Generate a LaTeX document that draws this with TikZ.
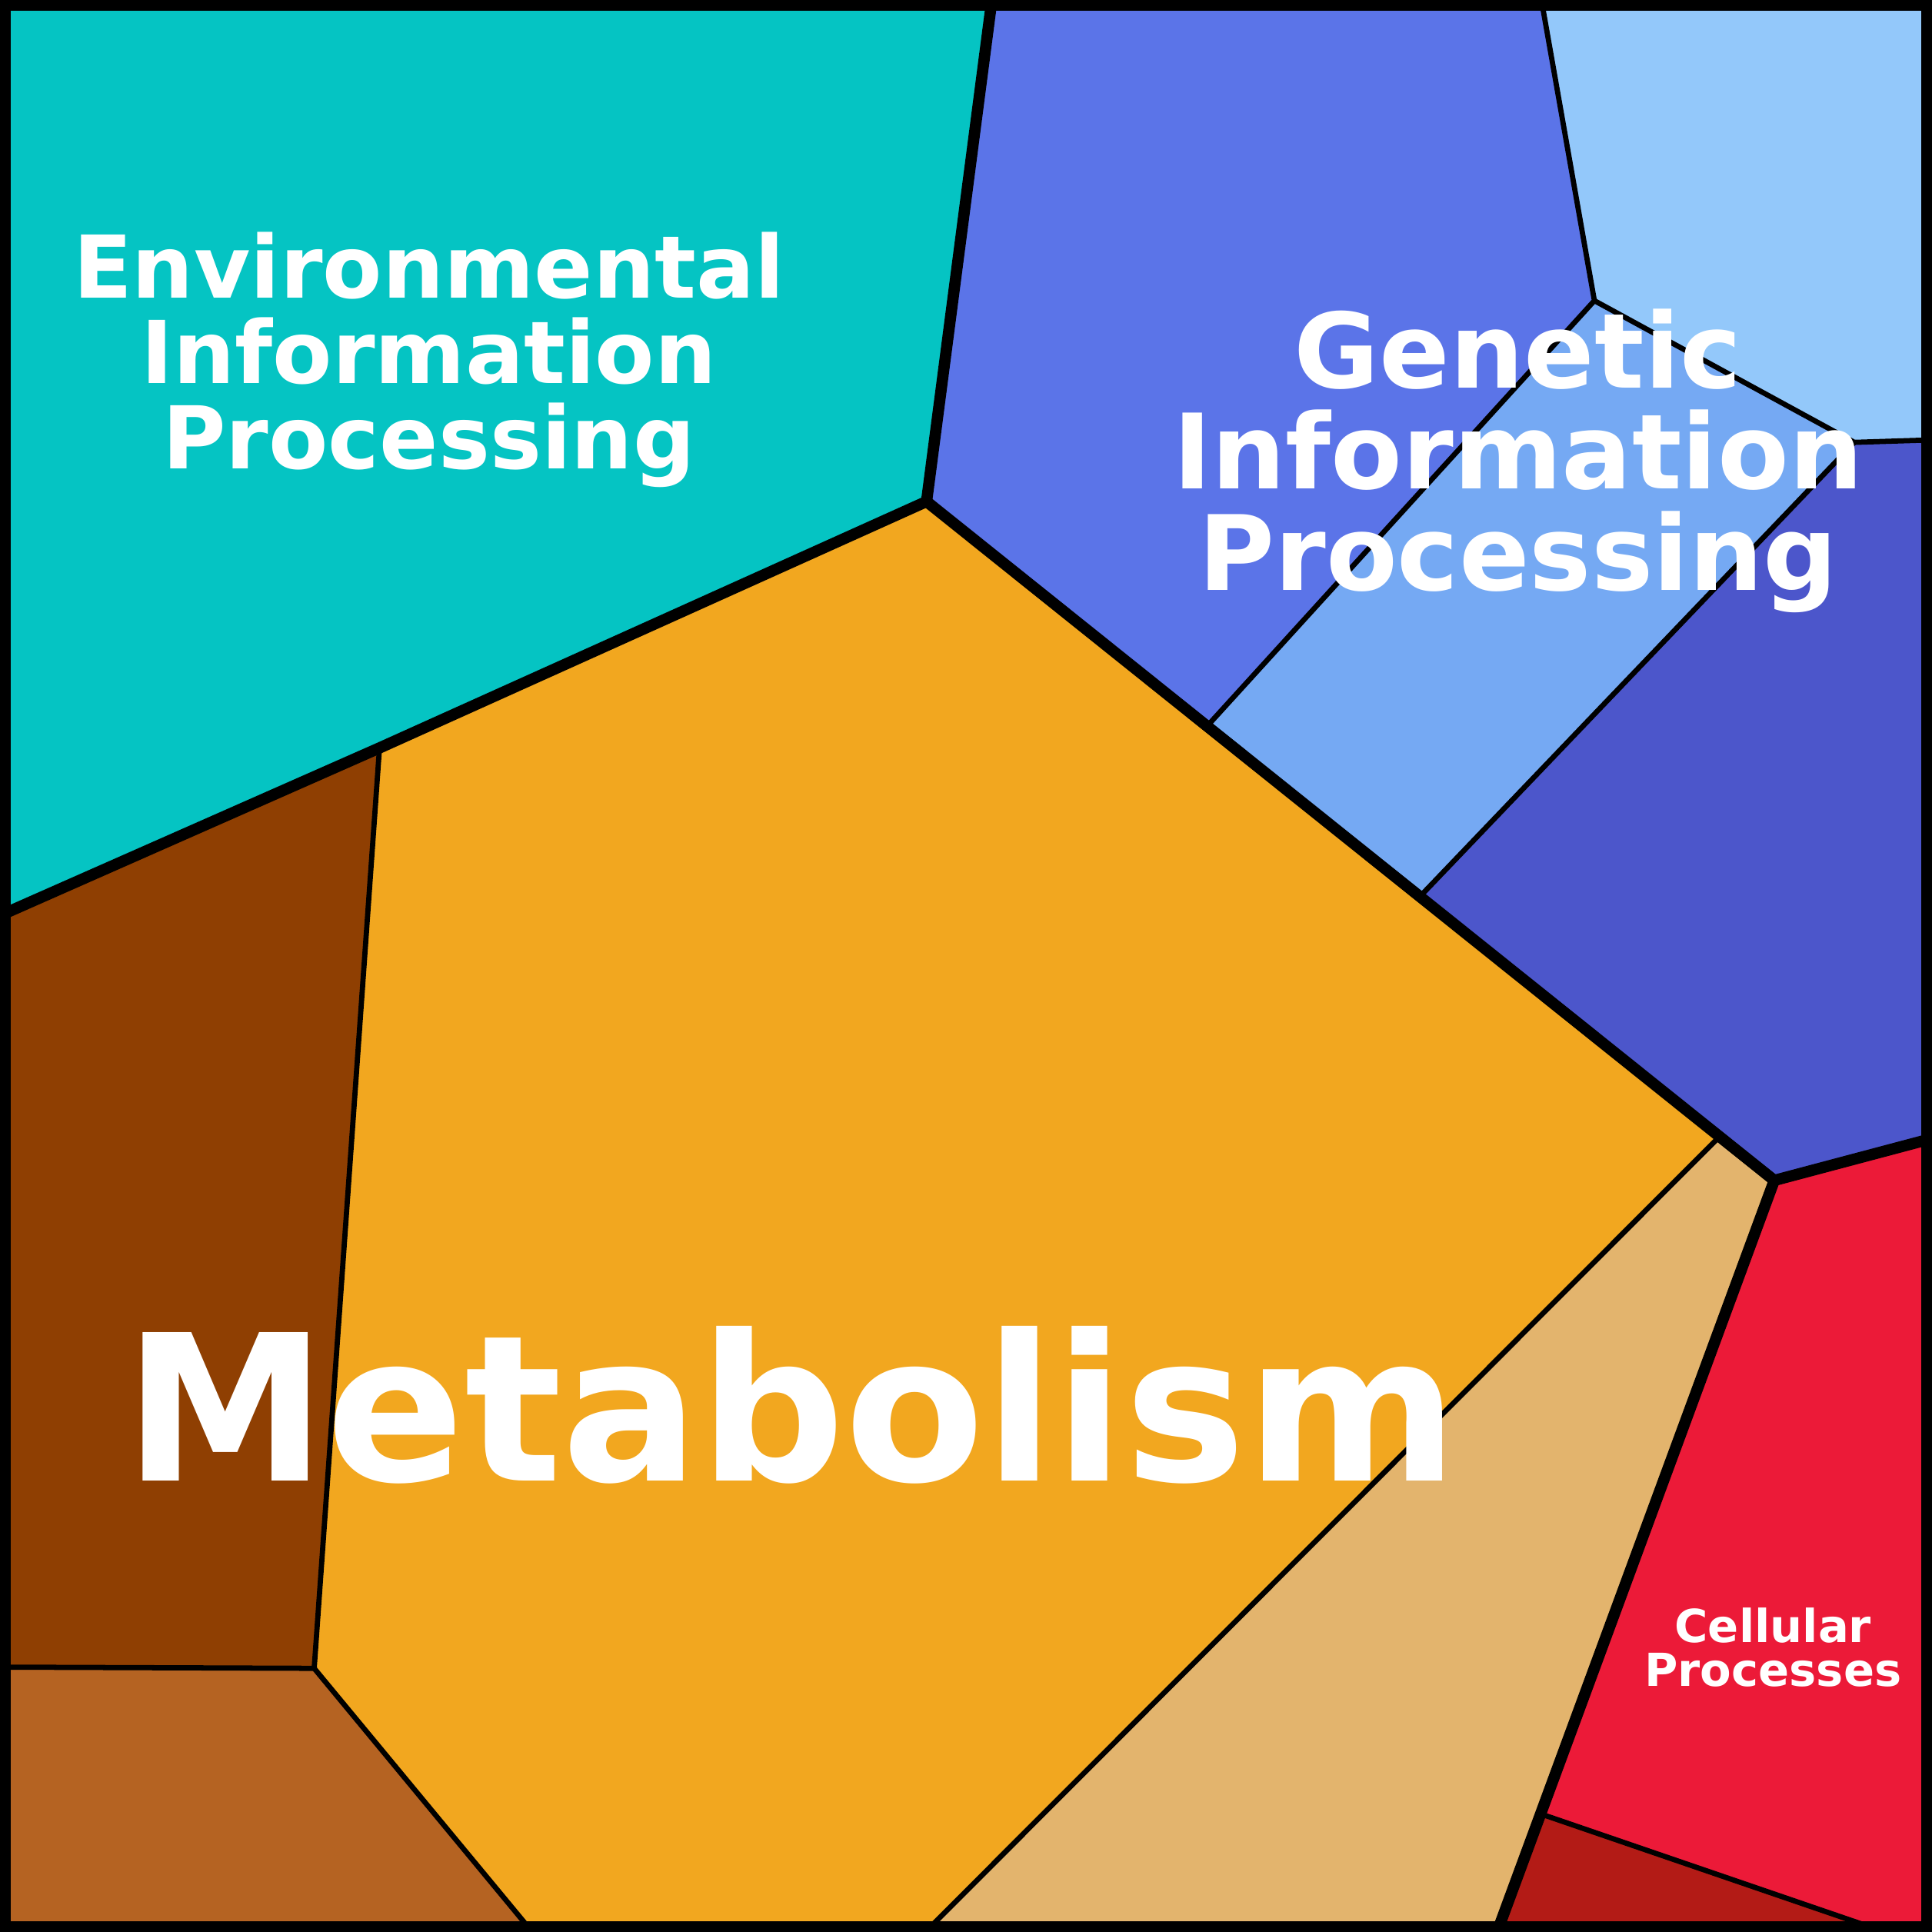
\documentclass[tikz,border=0pt]{standalone}
\usepackage{fontspec}
\setmainfont{DejaVu Sans}
\begin{document}
\begin{tikzpicture}[x=0.01cm,y=-0.01cm,
  thin/.style={draw=black,line width=1.2pt},
  thick/.style={draw=black,line width=2.6pt},
  lab/.style={text=white,font=\bfseries,align=center,inner sep=0pt}]
\definecolor{teal}{HTML}{05C4C3}
\definecolor{gblue}{HTML}{5B74E8}
\definecolor{sky}{HTML}{93C8FA}
\definecolor{mblue}{HTML}{75A9F3}
\definecolor{dblue}{HTML}{4C56CB}
\definecolor{orng}{HTML}{F2A71F}
\definecolor{brwn}{HTML}{8F3F02}
\definecolor{lbrwn}{HTML}{B56322}
\definecolor{tan}{HTML}{E3B46D}
\definecolor{red1}{HTML}{EC1A38}
\definecolor{dred}{HTML}{B31B16}
\useasboundingbox (0,0) rectangle (1568,1568);
\coordinate (A) at (805,0); \coordinate (B) at (752,407); \coordinate (C) at (308,607);
\coordinate (D) at (0,743); \coordinate (E) at (1251,0); \coordinate (F) at (1294,244);
\coordinate (G) at (980,589); \coordinate (H) at (1505,359); \coordinate (I) at (1568,357);
\coordinate (J) at (1153,727); \coordinate (K) at (1568,924); \coordinate (L) at (1440,958);
\coordinate (M) at (1395,923); \coordinate (N) at (751,1568); \coordinate (O) at (432,1568);
\coordinate (P) at (255,1354); \coordinate (Q) at (0,1353); \coordinate (R) at (1215,1568);
\coordinate (S) at (1250,1472); \coordinate (T) at (1530,1568);
\fill[teal] (0,0) -- (A) -- (B) -- (C) -- (D) -- cycle;
\fill[gblue] (A) -- (E) -- (F) -- (G) -- (B) -- cycle;
\fill[sky] (E) -- (1568,0) -- (I) -- (H) -- (F) -- cycle;
\fill[mblue] (F) -- (H) -- (J) -- (G) -- cycle;
\fill[dblue] (H) -- (I) -- (K) -- (L) -- (J) -- cycle;
\fill[orng] (C) -- (B) -- (M) -- (N) -- (O) -- (P) -- cycle;
\fill[brwn] (D) -- (C) -- (P) -- (Q) -- cycle;
\fill[lbrwn] (Q) -- (P) -- (O) -- (0,1568) -- cycle;
\fill[tan] (M) -- (L) -- (R) -- (N) -- cycle;
\fill[red1] (L) -- (K) -- (1568,1568) -- (T) -- (S) -- cycle;
\fill[dred] (S) -- (T) -- (R) -- cycle;
\draw[thin] (F) -- (H) -- (I);
\draw[thin] (E) -- (F) -- (G);
\draw[thin] (H) -- (J);
\draw[thin] (C) -- (P) -- (Q);
\draw[thin] (P) -- (O);
\draw[thin] (M) -- (N);
\draw[thin] (S) -- (T);
\draw[thick] (D) -- (C) -- (B) -- (A);
\draw[thick] (B) -- (L) -- (K);
\draw[thick] (L) -- (R);
\draw[line width=5pt] (0,0) rectangle (1568,1568);
\node[lab,font=\bfseries\fontsize{20}{19.7}\selectfont] (env) at (348,292) {Environmental\\Information\\Processing};
\node[lab,font=\bfseries\fontsize{24}{23.3}\selectfont] (gen) at (1232,374) {Genetic\\Information\\Processing};
\node[lab,font=\bfseries\fontsize{47}{47}\selectfont] (met) at (642,1140) {Metabolism};
\node[lab,font=\bfseries\fontsize{10.5}{10}\selectfont] (cel) at (1439,1337) {Cellular\\Processes};
\end{tikzpicture}
\end{document}
